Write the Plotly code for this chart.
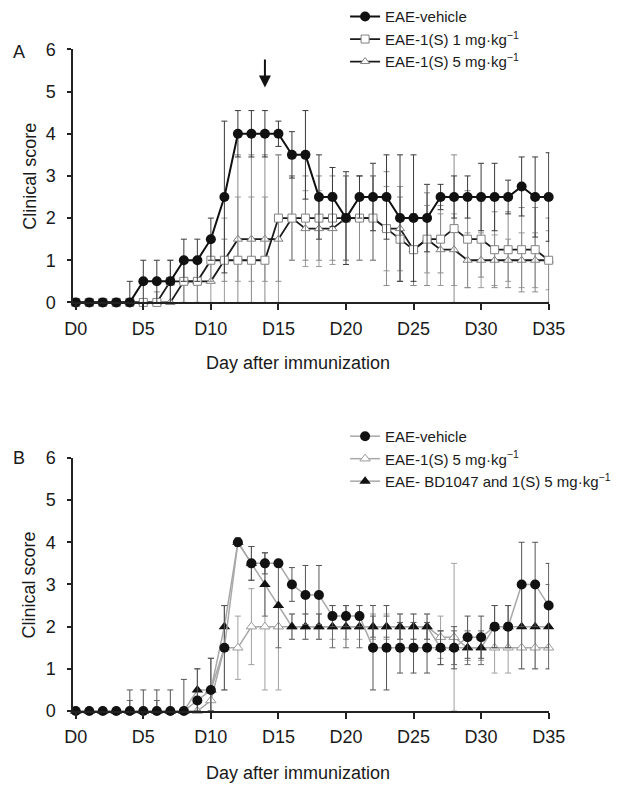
import plotly.graph_objects as go

# ---------------- data ----------------
days = list(range(36))
tick_vals = [0, 5, 10, 15, 20, 25, 30, 35]
tick_text = ["D0", "D5", "D10", "D15", "D20", "D25", "D30", "D35"]

# Panel A
a_vehicle = [0, 0, 0, 0, 0, 0.5, 0.5, 0.5, 1, 1, 1.5, 2.5, 4, 4, 4, 4, 3.5, 3.5, 2.5, 2.5,
             2, 2.5, 2.5, 2.5, 2, 2, 2, 2.5, 2.5, 2.5, 2.5, 2.5, 2.5, 2.75, 2.5, 2.5]
a_vehicle_err = [0, 0, 0, 0, 0.5, 0.5, 0.5, 0.5, 0.5, 0.5, 0.5, 1.8, 0.55, 0.55, 0.55, 0.3, 0.55, 1.05,
                 1.0, 0.7, 1.1, 0.5, 0.8, 1.0, 1.5, 1.5, 0.8, 0.3, 0.5, 0.5, 0.8, 0.8, 0.4, 0.7, 0.95, 1.05]
a_1mg = [0, 0, 0, 0, 0, 0, 0, 0.5, 0.5, 0.5, 1, 1, 1, 1, 1, 2, 2, 2, 2, 2,
         2, 2, 2, 1.75, 1.5, 1.25, 1.5, 1.5, 1.75, 1.5, 1.5, 1.25, 1.25, 1.25, 1.25, 1.0]
a_1mg_err = [0, 0, 0, 0, 0, 0, 0.25, 0.5, 0.5, 0.5, 0.5, 0.5, 2.5, 2.5, 2.5, 1.5, 1.0, 1.0,
             1.0, 1.0, 1.0, 1.0, 1.0, 1.35, 1.0, 0.85, 1.1, 0.8, 1.75, 1.15, 0.9, 0.9, 0.9, 1.0, 1.0, 1.0]
a_5mg = [0, 0, 0, 0, 0, 0, 0, 0, 0.5, 0.5, 0.5, 1, 1.5, 1.5, 1.5, 1.5, 2, 1.75, 1.75, 1.75,
         2, 2, 2, 1.75, 1.75, 1.25, 1.5, 1.25, 1.25, 1, 1, 1, 1, 1, 1, 1]
a_5mg_err = [0, 0, 0, 0, 0, 0, 0, 0, 0.5, 0.5, 0.5, 1.0, 1.0, 1.0, 1.0, 2.0, 1.0, 0.9,
             0.9, 0.85, 1.0, 1.0, 1.0, 1.0, 1.0, 0.85, 0.8, 0.85, 0.85, 0.65, 0.65, 0.6, 0.5, 0.65, 0.65, 0.7]

# Panel B
b_vehicle = [0, 0, 0, 0, 0, 0, 0, 0, 0, 0.25, 0.5, 1.5, 4, 3.5, 3.5, 3.5, 3, 2.75, 2.75, 2.25,
             2.25, 2.25, 1.5, 1.5, 1.5, 1.5, 1.5, 1.5, 1.5, 1.75, 1.75, 2, 2, 3, 3, 2.5]
b_vehicle_err = [0, 0, 0, 0, 0.5, 0.5, 0.5, 0.5, 0.75, 0.75, 0.75, 1.0, 0.1, 0.4, 0.25, 0.0, 0.4, 0.7,
                 0.7, 0.25, 0.25, 0.25, 1.0, 1.0, 0.6, 0.6, 0.6, 0.4, 0.5, 0.5, 0.5, 0.5, 0.5, 1.0, 1.0, 1.0]
b_5mg = [0, 0, 0, 0, 0, 0, 0, 0, 0, 0, 0.25, 1.5, 1.5, 2, 2, 2, 2, 2, 2, 2,
         2, 2, 2, 2, 2, 2, 2, 1.75, 1.75, 1.5, 1.5, 1.5, 1.5, 1.5, 1.5, 1.5]
b_5mg_err = [0, 0, 0, 0, 0, 0, 0, 0, 0, 0, 0.25, 1.0, 0.75, 0.9, 1.5, 1.5, 0.3, 0.3,
             0.3, 0.3, 0.3, 0.3, 0.3, 0.3, 0.3, 0.3, 0.3, 0.5, 1.75, 0.3, 0.3, 0.6, 0.6, 0.5, 0.5, 0.5]
b_bd = [0, 0, 0, 0, 0, 0, 0, 0, 0, 0.5, 0.5, 2, 4, 3.5, 3, 2.5, 2, 2, 2, 2,
        2, 2, 2, 2, 2, 2, 2, 1.5, 1.5, 1.5, 1.5, 2, 2, 2, 2, 2]
b_bd_err = [0, 0, 0, 0, 0.25, 0, 0.25, 0, 0, 0.5, 0.75, 0.5, 0.1, 0.4, 0.75, 1.0, 0.3, 0.3,
            0.3, 0.5, 0.5, 0.5, 0.25, 0.25, 0.3, 0.3, 0.3, 0.4, 0.4, 0.4, 0.4, 0.5, 0.5, 1.0, 1.0, 1.0]

name_vehicle = "EAE-vehicle"
name_1mg = "EAE-1(S) 1 mg·kg<sup>−1</sup>"
name_5mg = "EAE-1(S) 5 mg·kg<sup>−1</sup>"
name_bd = "EAE- BD1047 and 1(S) 5 mg·kg<sup>−1</sup>"

FONT = "Liberation Sans, Arial, sans-serif"
TXT = "#1a1a1a"
W, H = 629, 796


def px_x(p):
    return p / W


def px_y(p):
    return 1 - p / H


def err(vals, e, color, thick=1.0):
    minus = [min(a, b) for a, b in zip(e, vals)]
    return dict(type="data", symmetric=False, array=e, arrayminus=minus,
                color=color, thickness=thick, width=3)


fig = go.Figure()

# ---- Panel A ----
fig.add_trace(go.Scatter(
    x=days, y=a_5mg, name=name_5mg, legendrank=3, mode="lines+markers", xaxis="x", yaxis="y",
    line=dict(color="#1a1a1a", width=1.8),
    marker=dict(symbol="triangle-up", size=8, color="white", line=dict(color="#808080", width=1)),
    error_y=err(a_5mg, a_5mg_err, "#9a9a9a"), legend="legend", cliponaxis=False))
fig.add_trace(go.Scatter(
    x=days, y=a_1mg, name=name_1mg, legendrank=2, mode="lines+markers", xaxis="x", yaxis="y",
    line=dict(color="#1a1a1a", width=1.8),
    marker=dict(symbol="square", size=8, color="white", line=dict(color="#808080", width=1)),
    error_y=err(a_1mg, a_1mg_err, "#8a8a8a"), legend="legend", cliponaxis=False))
fig.add_trace(go.Scatter(
    x=days, y=a_vehicle, name=name_vehicle, legendrank=1, mode="lines+markers", xaxis="x", yaxis="y",
    line=dict(color="#111111", width=2),
    marker=dict(symbol="circle", size=10, color="#111111"),
    error_y=err(a_vehicle, a_vehicle_err, "#3a3a3a"), legend="legend", cliponaxis=False))

# ---- Panel B ----
fig.add_trace(go.Scatter(
    x=days, y=b_5mg, name=name_5mg, legendrank=2, mode="lines+markers", xaxis="x2", yaxis="y2",
    line=dict(color="#a8a8a8", width=1.5),
    marker=dict(symbol="triangle-up", size=9, color="white", line=dict(color="#9a9a9a", width=1)),
    error_y=err(b_5mg, b_5mg_err, "#a0a0a0"), legend="legend2", cliponaxis=False))
fig.add_trace(go.Scatter(
    x=days, y=b_bd, name=name_bd, legendrank=3, mode="lines+markers", xaxis="x2", yaxis="y2",
    line=dict(color="#a8a8a8", width=1.5),
    marker=dict(symbol="triangle-up", size=10, color="#111111"),
    error_y=err(b_bd, b_bd_err, "#6a6a6a"), legend="legend2", cliponaxis=False))
fig.add_trace(go.Scatter(
    x=days, y=b_vehicle, name=name_vehicle, legendrank=1, mode="lines+markers", xaxis="x2", yaxis="y2",
    line=dict(color="#a8a8a8", width=1.5),
    marker=dict(symbol="circle", size=10, color="#111111"),
    error_y=err(b_vehicle, b_vehicle_err, "#555555"), legend="legend2", cliponaxis=False))

xdom = [px_x(66.7), px_x(562.7)]
axis_common = dict(showgrid=False, zeroline=False, showline=True, linecolor="#222222", linewidth=1.5,
                   ticks="outside", tickcolor="#222222", tickwidth=1.5,
                   tickfont=dict(family=FONT, size=18, color=TXT))

xaxis_common = dict(axis_common, range=[-0.2, 35.05], tickvals=tick_vals, ticktext=tick_text,
                    ticklen=6, ticklabelstandoff=3)
yaxis_common = dict(axis_common, range=[0, 6], tickvals=[0, 1, 2, 3, 4, 5, 6], ticklen=4,
                    ticklabelstandoff=8)

legend_common = dict(xanchor="left", yanchor="top", traceorder="normal",
                     font=dict(family=FONT, size=15, color=TXT),
                     bgcolor="rgba(0,0,0,0)", tracegroupgap=0, itemwidth=30)

fig.update_layout(
    width=W, height=H, margin=dict(l=0, r=0, t=0, b=0),
    paper_bgcolor="white", plot_bgcolor="white",
    font=dict(family=FONT, size=16, color=TXT),
    xaxis=dict(xaxis_common, domain=xdom, anchor="y"),
    yaxis=dict(yaxis_common, domain=[px_y(299.3), px_y(39.5)], anchor="x"),
    xaxis2=dict(xaxis_common, domain=xdom, anchor="y2"),
    yaxis2=dict(yaxis_common, domain=[px_y(719), px_y(459)], anchor="x2"),
    legend=dict(legend_common, x=px_x(350), y=px_y(-11)),
    legend2=dict(legend_common, x=px_x(350), y=px_y(420)),
)

annots = [
    dict(text="A", x=px_x(2), y=px_y(42), xanchor="left", yanchor="middle", font_size=18),
    dict(text="B", x=px_x(2), y=px_y(459), xanchor="left", yanchor="middle", font_size=18),
    dict(text="Clinical score", x=px_x(21), y=px_y(170), textangle=-90, xanchor="center",
         yanchor="middle", font_size=18),
    dict(text="Clinical score", x=px_x(21), y=px_y(590), textangle=-90, xanchor="center",
         yanchor="middle", font_size=18),
    dict(text="Day after immunization", x=px_x(301), y=px_y(362), xanchor="center",
         yanchor="middle", font_size=18),
    dict(text="Day after immunization", x=px_x(301), y=px_y(783), xanchor="center",
         yanchor="middle", font_size=18),
]
for a in annots:
    fig.add_annotation(xref="paper", yref="paper", showarrow=False,
                       font=dict(family=FONT, color=TXT, size=a.pop("font_size")), **a)

# arrow marking treatment start (day 14)
fig.add_annotation(x=14, y=5.1, ax=14, ay=6.0, xref="x", yref="y", axref="x", ayref="y",
                   showarrow=True, arrowhead=2, arrowsize=1.2, arrowwidth=2, arrowcolor="#111111",
                   text=" ")

fig.write_html("out.html", config={"displayModeBar": False},
               post_script="document.body.style.margin='0px';")
